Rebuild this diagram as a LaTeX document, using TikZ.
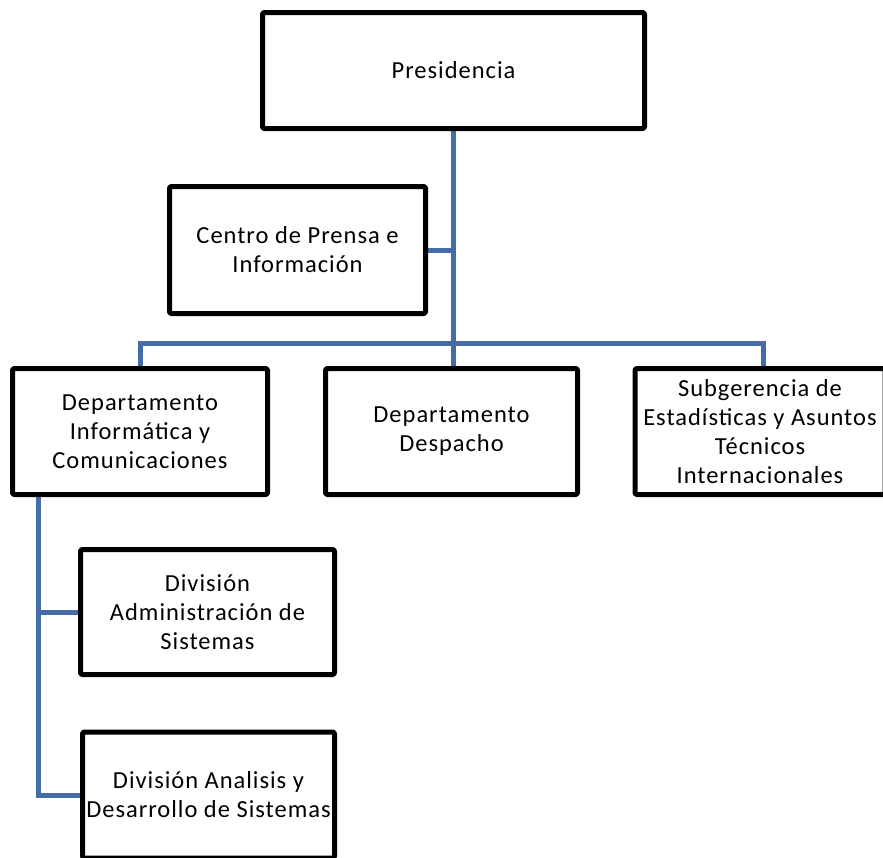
\documentclass[tikz,border=0pt]{standalone}
\usepackage{fontspec}
\setmainfont[LetterSpace=4]{Carlito}
\usetikzlibrary{backgrounds}
\definecolor{linkblue}{RGB}{68,108,166}
\begin{document}
\begin{tikzpicture}[x=1pt,y=-1pt,
  unit/.style={draw=black,line width=5pt,line join=round,rounded corners=1.5pt,
    fill=white,align=center,inner sep=0pt,
    font=\fontsize{24.5}{29}\selectfont},
  link/.style={draw=linkblue,line width=5pt}]
\useasboundingbox (0,0) rectangle (883,857);
\clip (0,0) rectangle (883,857);

% junction points of the connector lines
\coordinate (bus) at (453,343);
\coordinate (spine) at (38,795);

% boxes
\node[unit,minimum width=382pt,minimum height=116pt] (pres) at (453.5,70.5) {Presidencia};
\node[unit,minimum width=256pt,minimum height=127pt] (prensa) at (297.5,250) {Centro de Prensa e\\Información};
\node[unit,minimum width=255pt,minimum height=126pt] (info) at (140,431.5) {Departamento\\Informática y\\Comunicaciones};
\node[unit,minimum width=252pt,minimum height=126pt] (desp) at (451.5,431.5) {Departamento\\Despacho};
\node[unit,minimum width=250pt,minimum height=126pt] (sub) at (760,431.5) {Subgerencia de\\Estadísticas y Asuntos\\Técnicos\\Internacionales};
\node[unit,minimum width=254pt,minimum height=125pt] (adm) at (207.5,612) {División\\Administración de\\Sistemas};
\node[unit,minimum width=252pt,minimum height=126pt] (anal) at (208.5,795) {División Analisis y\\Desarrollo de Sistemas};

% connectors, kept behind the boxes
\begin{scope}[on background layer]
\draw[link] (pres.south -| bus) -- (desp.north -| bus);
\draw[link] (prensa.east) -- (prensa.east -| bus);
\draw[link] (info.north -| 140,0) |- (bus) -| (sub.north -| 763,0);
\draw[link] (info.south -| spine) -- (spine) -- (anal.west);
\draw[link] (adm.west) -- (adm.west -| spine);
\end{scope}
\end{tikzpicture}
\end{document}
